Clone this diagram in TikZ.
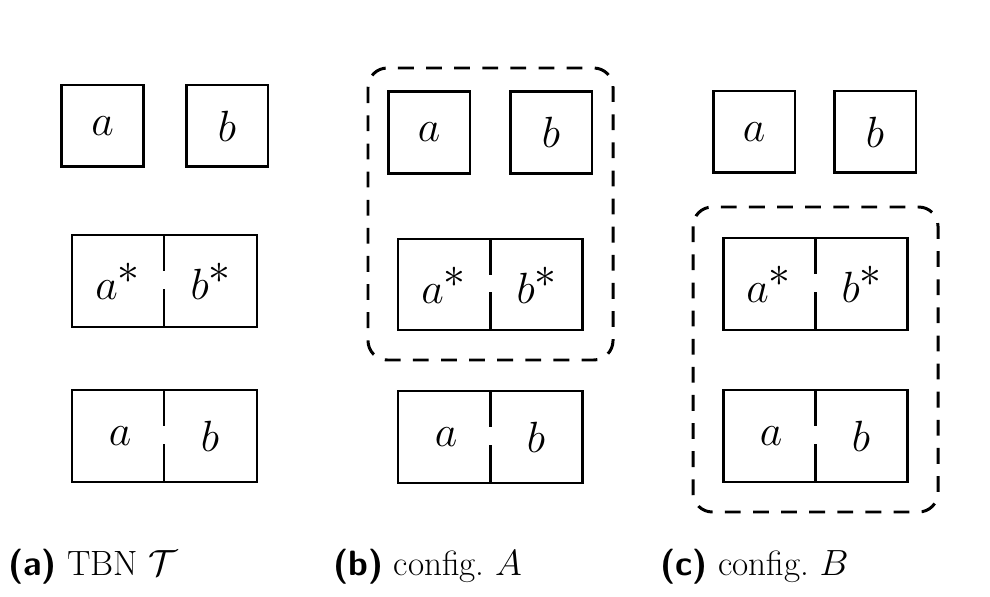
\documentclass[tikz,border=0pt]{standalone}
\usepackage{amsmath}
\begin{document}
\begin{tikzpicture}[x=0.02cm,y=-0.02cm,
  bx/.style={draw,line width=1.7pt},
  grp/.style={draw,line width=1.7pt,dash pattern=on 9pt off 7pt,rounded corners=11pt},
  lt/.style={font=\fontsize{34}{40}\selectfont},
  captxt/.style={font=\fontsize{20}{24}\selectfont,anchor=base west,inner sep=0}]
\useasboundingbox (0,0) rectangle (990,597);
\newcommand\pairbox[5]{% x1 y1 x2 y2 xm
  \draw[bx] (#1,#2) rectangle (#3,#4);
  \draw[bx] (#5,#2) -- ++(0,36) (#5,#4) -- ++(0,-38);}
% panel a
\node[bx,lt,minimum width=1.64cm,minimum height=1.64cm,inner sep=0] (a1) at (102.5,126) {$a$};
\node[bx,lt,minimum width=1.64cm,minimum height=1.64cm,inner sep=0] (b1) at (227,126) {$b$};
\pairbox{72}{235}{257}{327}{164}
\node[lt] (as1) at (118,281) {$a^*$};
\node[lt] (bs1) at (211,281) {$b^*$};
\pairbox{72}{390}{257}{482}{164}
\node[lt] (a1p) at (120,436) {$a$};
\node[lt] (b1p) at (210,436) {$b$};
% panel b
\node[bx,lt,minimum width=1.64cm,minimum height=1.64cm,inner sep=0] (a2) at (429,132.5) {$a$};
\node[bx,lt,minimum width=1.64cm,minimum height=1.64cm,inner sep=0] (b2) at (551,132.5) {$b$};
\pairbox{398}{239}{582}{330}{490}
\node[lt] (as2) at (444,285) {$a^*$};
\node[lt] (bs2) at (537,285) {$b^*$};
\pairbox{398}{391}{582}{483}{490}
\node[lt] (a2p) at (446,437) {$a$};
\node[lt] (b2p) at (536,437) {$b$};
\draw[grp] (368,68) rectangle (613,360);
% panel c
\node[bx,lt,minimum width=1.64cm,minimum height=1.64cm,inner sep=0] (a3) at (754,132) {$a$};
\node[bx,lt,minimum width=1.64cm,minimum height=1.64cm,inner sep=0] (b3) at (875,132) {$b$};
\pairbox{723}{238}{907}{330}{815}
\node[lt] (as3) at (769,284) {$a^*$};
\node[lt] (bs3) at (862,284) {$b^*$};
\pairbox{723}{390}{907}{482}{815}
\node[lt] (a3p) at (771,436) {$a$};
\node[lt] (b3p) at (861,436) {$b$};
\draw[grp] (693,207) rectangle (938,512);
% captions
\node[captxt] (ca) at (8,575) {\textsf{\bfseries (a)} TBN $\mathcal{T}$};
\node[captxt] (cb) at (333,575) {\textsf{\bfseries (b)} config.\ $A$};
\node[captxt] (cc) at (660,575) {\textsf{\bfseries (c)} config.\ $B$};
\end{tikzpicture}
\end{document}
